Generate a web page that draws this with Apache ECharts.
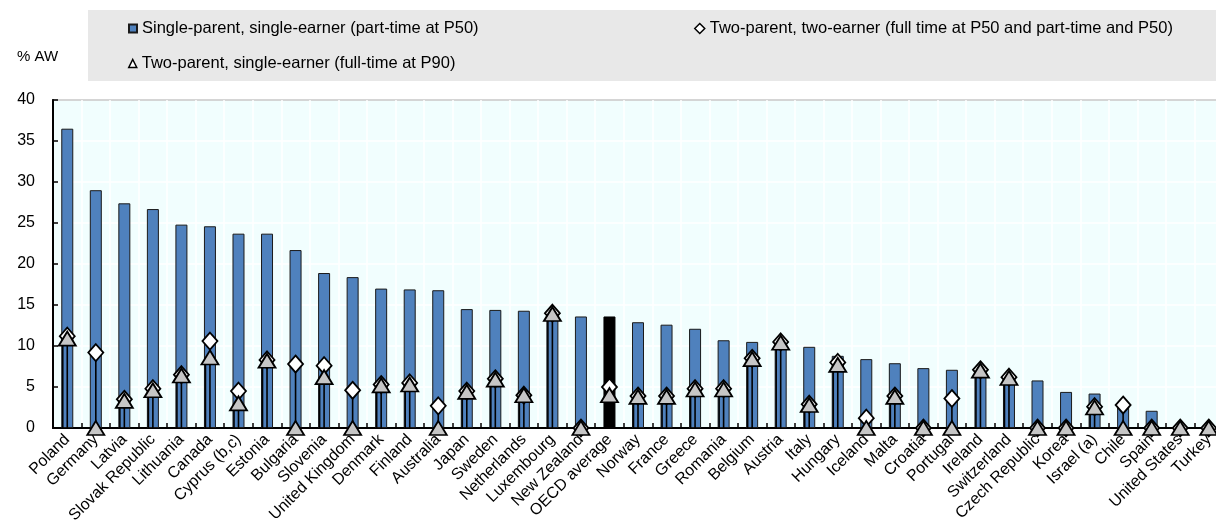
<!DOCTYPE html>
<html>
<head>
<meta charset="utf-8">
<script src="https://cdn.jsdelivr.net/npm/echarts@6/dist/echarts.min.js"></script>
<style>
  html, body { margin: 0; padding: 0; background: #fff; }
  #main { width: 1216px; height: 527px; }
</style>
</head>
<body>
<div id="main"></div>
<script>
// data (% of average wage)
var categories = ['Poland', 'Germany', 'Latvia', 'Slovak Republic', 'Lithuania', 'Canada', 'Cyprus (b,c)', 'Estonia',
  'Bulgaria', 'Slovenia', 'United Kingdom', 'Denmark', 'Finland', 'Australia', 'Japan', 'Sweden', 'Netherlands',
  'Luxembourg', 'New Zealand', 'OECD average', 'Norway', 'France', 'Greece', 'Romania', 'Belgium', 'Austria', 'Italy',
  'Hungary', 'Iceland', 'Malta', 'Croatia', 'Portugal', 'Ireland', 'Switzerland', 'Czech Republic', 'Korea',
  'Israel (a)', 'Chile', 'Spain', 'United States', 'Turkey'];
var singleParent = [36.5, 29.0, 27.4, 26.7, 24.8, 24.6, 23.7, 23.7, 21.7, 18.9, 18.4, 17.0, 16.9, 16.8, 14.5, 14.4, 14.3,
  14.0, 13.6, 13.6, 12.9, 12.6, 12.1, 10.7, 10.5, 10.3, 9.9, 8.8, 8.4, 7.9, 7.3, 7.1, 6.9, 6.0, 5.8, 4.4, 4.2, 2.6, 2.1, 0.2, 0.1];
var twoEarner = [11.2, 9.2, 3.5, 4.8, 6.5, 10.6, 4.5, 8.3, 7.8, 7.6, 4.6, 5.3, 5.5, 2.7, 4.5, 6.0, 4.0, 14.0, 0.0, 5.0,
  3.9, 3.9, 4.8, 4.8, 8.5, 10.5, 2.9, 8.0, 1.2, 3.9, 0.0, 3.6, 7.1, 6.2, 0.0, 0.0, 2.6, 2.8, 0.0, 0.0, 0.0];
var singleEarnerP90 = [10.9, 0.0, 3.3, 4.6, 6.4, 8.6, 3.0, 8.2, 0.0, 6.2, 0.0, 5.2, 5.3, 0.0, 4.4, 5.9, 4.0, 13.9, 0.0, 4.0,
  3.8, 3.8, 4.7, 4.7, 8.4, 10.4, 2.8, 7.7, 0.0, 3.8, 0.0, 0.0, 7.0, 6.1, 0.0, 0.0, 2.5, 0.0, 0.0, 0.0, 0.0];
var highlight = 'OECD average';

var nameBar = 'Single-parent, single-earner (part-time at P50)';
var nameDiamond = 'Two-parent, two-earner (full time at P50 and part-time and P50)';
var nameTriangle = 'Two-parent, single-earner (full-time at P90)';

var fontFam = "'Liberation Sans', Arial, sans-serif";

var chart = echarts.init(document.getElementById('main'));

// vertical drop lines from 0 to each marker
var stemData = function (arr) {
  var out = [];
  arr.forEach(function (v, i) { if (v > 0) out.push([i, v]); });
  return out;
};
var stemRender = function (offset) {
  return function (params, api) {
    var p0 = api.coord([api.value(0), 0]);
    var p1 = api.coord([api.value(0), api.value(1)]);
    return {
      type: 'line',
      shape: { x1: p0[0] + offset, y1: p0[1], x2: p0[0] + offset, y2: p1[1] },
      style: { stroke: '#000', lineWidth: 1.6 }
    };
  };
};

var legendText = { fontSize: 16.5, color: '#000', fontFamily: fontFam };

var option = {
  animation: false,
  textStyle: { fontFamily: fontFam },
  graphic: [
    { type: 'rect', left: 88, top: 10, shape: { width: 1128, height: 71 }, style: { fill: '#e8e8e8' }, z: -1 },
    { type: 'text', left: 17, top: 49, style: { text: '% AW', font: '15px ' + fontFam, fill: '#000' } }
  ],
  legend: [
    {
      data: [nameBar], left: 123, top: 15, itemWidth: 8, itemHeight: 8,
      textStyle: legendText, icon: 'rect'
    },
    {
      data: [{ name: nameDiamond, itemStyle: { color: '#fff', borderColor: '#000', borderWidth: 1.5 } }],
      left: 689, top: 15, itemWidth: 10, itemHeight: 10,
      textStyle: legendText, icon: 'diamond'
    },
    {
      data: [{ name: nameTriangle, itemStyle: { color: '#fff', borderColor: '#000', borderWidth: 1.5 } }],
      left: 123, top: 50, itemWidth: 8, itemHeight: 8,
      textStyle: legendText, icon: 'triangle'
    }
  ],
  grid: {
    left: 53, top: 100, width: 1170, height: 328,
    outerBoundsMode: 'none', containLabel: false,
    show: true, backgroundColor: '#f1fefe', borderColor: '#222', borderWidth: 1.5
  },
  xAxis: {
    type: 'category',
    data: categories,
    axisLine: { lineStyle: { color: '#000', width: 2 } },
    axisTick: { show: true, inside: true, length: 5, lineStyle: { color: '#000', width: 1.5 } },
    splitLine: { show: true, lineStyle: { color: '#fff', width: 1.5 } },
    axisLabel: { interval: 0, rotate: 45, fontSize: 16, color: '#000', margin: 9 }
  },
  yAxis: {
    type: 'value',
    min: 0, max: 40, interval: 5,
    axisLine: { show: true, lineStyle: { color: '#000', width: 2 } },
    axisTick: { show: true, inside: true, length: 5, lineStyle: { color: '#000', width: 1.5 } },
    splitLine: { show: true, lineStyle: { color: '#fff', width: 1.5 } },
    axisLabel: { fontSize: 16, color: '#000', margin: 18 }
  },
  series: [
    {
      name: nameBar,
      type: 'bar',
      barWidth: 12,
      z: 2,
      itemStyle: { color: '#4f81bd', borderColor: '#1a1a1a', borderWidth: 1 },
      data: singleParent.map(function (v, i) {
        return categories[i] === highlight
          ? { value: v, itemStyle: { color: '#000', borderColor: '#000' } }
          : v;
      })
    },
    {
      name: 'stemTriangle', type: 'custom', z: 3, silent: true,
      renderItem: stemRender(-4.5), data: stemData(singleEarnerP90)
    },
    {
      name: 'stemDiamond', type: 'custom', z: 3, silent: true,
      renderItem: stemRender(0), data: stemData(twoEarner)
    },
    {
      name: nameDiamond,
      type: 'scatter',
      symbol: 'diamond',
      symbolSize: [15, 17],
      z: 4,
      itemStyle: { color: '#fff', borderColor: '#000', borderWidth: 1.8, opacity: 1 },
      data: twoEarner
    },
    {
      name: nameTriangle,
      type: 'scatter',
      symbol: 'triangle',
      symbolSize: [17, 14],
      z: 5,
      itemStyle: { color: '#c6c6c6', borderColor: '#000', borderWidth: 1.8, opacity: 1 },
      data: singleEarnerP90
    }
  ]
};
option && chart.setOption(option);
</script>
</body>
</html>
